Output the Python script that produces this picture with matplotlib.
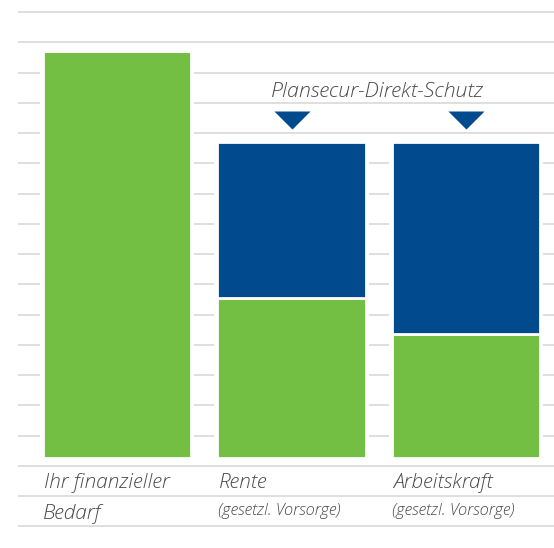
import matplotlib
matplotlib.use("Agg")
import matplotlib.pyplot as plt
import numpy as np

# ---- data ----
categories = ["Ihr finanzieller", "Rente", "Arbeitskraft"]
sublabels = ["Bedarf", "(gesetzl. Vorsorge)", "(gesetzl. Vorsorge)"]
green_values = [13.47, 5.28, 4.09]      # Bedarf / gesetzliche Vorsorge
blue_values = [0.0, 5.18, 6.36]         # Plansecur-Direkt-Schutz
annotation = "Plansecur-Direkt-Schutz"
grid_levels = np.arange(-2.253, 15.0, 1.0)

GREEN = "#72bf44"
BLUE = "#004a8d"
GRID = "#d6d6d6"
TEXT = "#4a4a4a"
FONT = ["Open Sans", "DejaVu Sans"]

fig = plt.figure(figsize=(5.54, 5.48), dpi=100)
ax = fig.add_axes([0, 0, 1, 1])
ax.set_xlim(-0.6705, 2.504)
ax.set_ylim(-2.972, 15.144)
ax.axis("off")

x = np.arange(len(categories))
width = 0.853

# grid lines
for g in grid_levels:
    ax.plot([-0.567, 2.504], [g, g], color=GRID, lw=1.1, zorder=1,
            solid_capstyle="butt")

green = np.array(green_values)
blue = np.array(blue_values)
total = green + blue

# white masks to interrupt grid lines around the bars
ax.bar(x, total, width=width + 0.03, bottom=0, color="white", zorder=2,
       linewidth=0)
ax.bar(x, green, width=width, color=GREEN, edgecolor="white", linewidth=2.0,
       zorder=3)
ax.bar(x, blue, bottom=green, width=width, color=BLUE, edgecolor="white",
       linewidth=2.0, zorder=3)

# triangles above the Plansecur bars
has_blue = blue > 0
ax.scatter(x[has_blue], np.full(has_blue.sum(), 11.47),
           marker=[(-1, 0), (1, 0), (0, -1)], s=26 ** 2, color=BLUE,
           linewidths=0, zorder=4)

mid = x[has_blue].mean()
ax.text(mid - 0.01, 11.95, annotation, ha="center", va="baseline",
        fontsize=15.4, style="italic", weight=300, color=TEXT, family=FONT,
        zorder=5)

for xi, lab, sub in zip(x, categories, sublabels):
    left = xi - 0.837 / 2
    ax.text(left, -1.0, lab, ha="left", va="baseline", fontsize=15.0,
            style="italic", weight=300, color=TEXT, family=FONT)
    small = sub.startswith("(")
    ax.text(left - 0.005, -1.88 if small else -2.02, sub, ha="left",
            va="baseline", fontsize=11.8 if small else 15.0, style="italic",
            weight=300, color=TEXT, family=FONT)

fig.savefig("out.png", dpi=100)
